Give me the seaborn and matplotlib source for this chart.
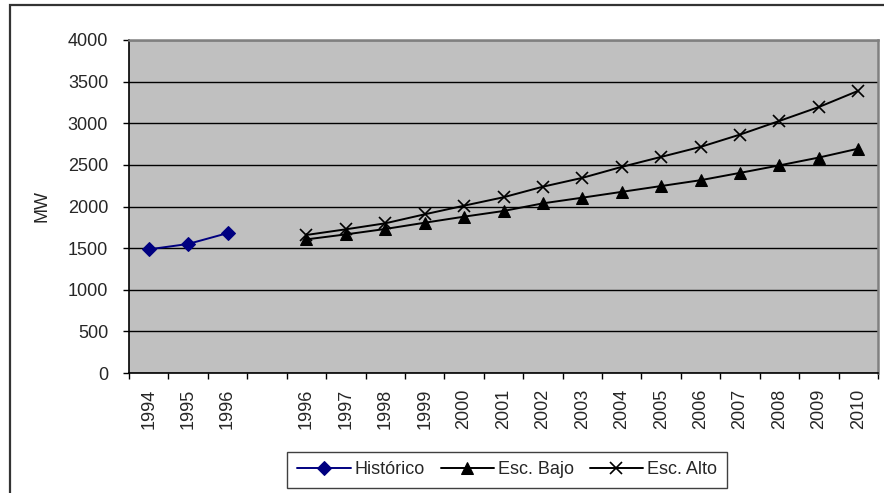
import numpy as np
import pandas as pd
import matplotlib
matplotlib.use("Agg")
import matplotlib.pyplot as plt
from matplotlib.patches import Rectangle
import seaborn as sns

# Category slots along the x axis (the empty slot separates history from scenarios)
categorias = ["1994", "1995", "1996", "",
              "1996", "1997", "1998", "1999", "2000", "2001", "2002", "2003",
              "2004", "2005", "2006", "2007", "2008", "2009", "2010"]

historico = [1485, 1550, 1680]
esc_bajo = [1605, 1665, 1730, 1805, 1878, 1946, 2038, 2106,
            2176, 2246, 2316, 2404, 2494, 2588, 2695]
esc_alto = [1658, 1726, 1798, 1906, 2010, 2111, 2238, 2344,
            2476, 2596, 2716, 2864, 3028, 3195, 3390]

yticks = list(range(0, 4001, 500))

pos_hist = list(range(0, len(historico)))
pos_esc = list(range(4, 4 + len(esc_bajo)))

df_hist = pd.DataFrame({"pos": pos_hist, "MW": historico})
df_bajo = pd.DataFrame({"pos": pos_esc, "MW": esc_bajo})
df_alto = pd.DataFrame({"pos": pos_esc, "MW": esc_alto})

sns.set_theme(style="white")
plt.rcParams["font.family"] = ["Liberation Sans", "DejaVu Sans"]
FS = 13

fig = plt.figure(figsize=(8.84, 4.93), dpi=100)
W, H = 884, 493
x0, x1, y0, y1 = 129, 878, 40, 373
ax = fig.add_axes([x0 / W, 1 - y1 / H, (x1 - x0) / W, (y1 - y0) / H])
ax.set_facecolor("#C0C0C0")

sns.lineplot(data=df_hist, x="pos", y="MW", ax=ax, color="#000080",
             marker="D", markersize=7.5, markeredgecolor="#000080",
             markerfacecolor="#000080", linewidth=1.4, label="Histórico")
sns.lineplot(data=df_bajo, x="pos", y="MW", ax=ax, color="black",
             marker="^", markersize=9, markeredgecolor="black",
             markerfacecolor="black", linewidth=1.4, label="Esc. Bajo")
sns.lineplot(data=df_alto, x="pos", y="MW", ax=ax, color="black",
             marker="x", markersize=9, markeredgecolor="black",
             markeredgewidth=1.2, linewidth=1.4, label="Esc. Alto")

# Axes limits and ticks
ax.set_xlim(-0.5, len(categorias) - 0.5)
ax.set_ylim(0, 4000)
ax.set_yticks(yticks)
ax.set_yticklabels([str(v) for v in yticks], fontsize=FS)
ax.set_xticks(np.arange(-0.5, len(categorias), 1.0))
ax.set_xticklabels([])
ax.set_xticks(np.arange(len(categorias)), minor=True)
ax.set_xticklabels(categorias, minor=True, rotation=90, fontsize=FS)
ax.tick_params(axis="x", which="major", direction="out", length=4,
               width=1, color="black", bottom=True)
ax.tick_params(axis="x", which="minor", length=0, pad=11.5, bottom=True)
ax.tick_params(axis="y", direction="out", length=4, width=1,
               color="black", pad=11, left=True)

ax.set_xlabel("")
ax.set_ylabel("MW", fontsize=FS)
ax.yaxis.set_label_coords((50 - x0) / (x1 - x0), 0.5)

# Horizontal gridlines
ax.set_axisbelow(True)
ax.yaxis.grid(True, color="black", linewidth=1)
ax.xaxis.grid(False)

for side in ("left", "bottom"):
    ax.spines[side].set_color("black")
    ax.spines[side].set_linewidth(1.2)
for side in ("top", "right"):
    ax.spines[side].set_color("#808080")
    ax.spines[side].set_linewidth(1.8)

leg = ax.legend(loc="center", bbox_to_anchor=(507 / W, 1 - 470 / H),
                bbox_transform=fig.transFigure, ncol=3, frameon=True,
                fancybox=False, shadow=False, edgecolor="#404040",
                framealpha=1, facecolor="white", fontsize=FS,
                handlelength=2.95, handletextpad=0.2, columnspacing=0.9,
                borderpad=0.55, borderaxespad=0)
leg.get_frame().set_linewidth(1.0)

# Outer chart frame
fig.add_artist(Rectangle((9.5 / W, -0.02), 1.0, 1 - 4.5 / H + 0.02,
                         transform=fig.transFigure, fill=False,
                         edgecolor="#333333", linewidth=1.6))

fig.savefig("out.png", dpi=100)
